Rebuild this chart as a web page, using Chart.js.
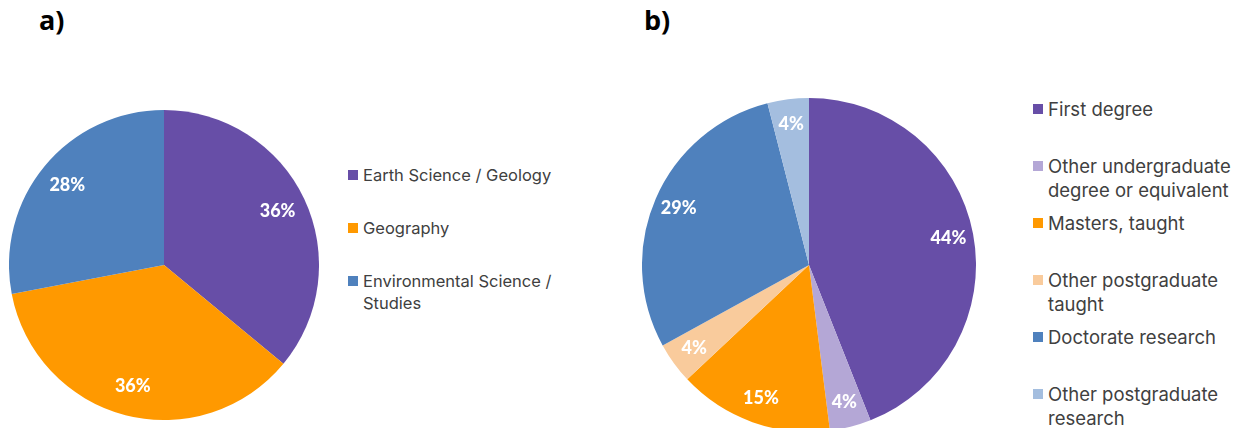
<!DOCTYPE html>
<html>
<head>
<meta charset="utf-8">
<script src="https://cdn.jsdelivr.net/npm/chart.js@4"></script>
<style>
  body { margin: 0; width: 1237px; height: 428px; overflow: hidden; background: #fff; position: relative; }
  .title { position: absolute; font: bold 27px "Open Sans", sans-serif; color: #000; top: 1px; }
  .wrap { position: absolute; }
  .legend { position: absolute; font-family: "Inter", sans-serif; color: #404040; }
  .item { position: relative; padding-left: 15px; box-sizing: border-box; }
  .box { position: absolute; left: 0; width: 10px; height: 10px; }
</style>
</head>
<body>
<div class="title" style="left:39px">a)</div>
<div class="title" style="left:644px">b)</div>
<div class="wrap" style="left:9px;top:110px;width:310px;height:310px"><canvas id="chartA"></canvas></div>
<div class="wrap" style="left:642px;top:98px;width:334px;height:334px"><canvas id="chartB"></canvas></div>
<div class="legend" id="legendA" style="left:348px;top:164px;font-size:16.5px"></div>
<div class="legend" id="legendB" style="left:1033px;top:97px;font-size:18.5px"></div>
<script>
// a) subject of study
const subjectLabels = ["Earth Science / Geology", "Geography", "Environmental Science / Studies"];
const subjectValues = [36, 36, 28];
const subjectColors = ["#674ea7", "#ff9900", "#4f81bd"];

// b) level of study
const levelLabels = [
  "First degree",
  "Other undergraduate degree or equivalent",
  "Masters, taught",
  "Other postgraduate taught",
  "Doctorate research",
  "Other postgraduate research",
];
const levelValues = [44, 4, 15, 4, 29, 4];
const levelColors = ["#674ea7", "#b4a7d6", "#ff9900", "#f9cb9c", "#4f81bd", "#a4bedf"];

// draws "NN%" inside each slice
const pctLabels = {
  id: "pctLabels",
  afterDatasetsDraw(chart, args, opts) {
    const ctx = chart.ctx;
    const meta = chart.getDatasetMeta(0);
    const data = chart.data.datasets[0].data;
    ctx.save();
    ctx.fillStyle = "#fff";
    ctx.font = "900 18px Lato, sans-serif";
    ctx.textAlign = "center";
    ctx.textBaseline = "middle";
    meta.data.forEach((arc, i) => {
      const mid = (arc.startAngle + arc.endAngle) / 2;
      const r = arc.outerRadius * opts.factor;
      ctx.fillText(data[i] + "%", arc.x + Math.cos(mid) * r, arc.y + Math.sin(mid) * r);
    });
    ctx.restore();
  },
};

function makePie(id, labels, values, colors, factor) {
  return new Chart(document.getElementById(id).getContext("2d"), {
    type: "pie",
    data: {
      labels: labels,
      datasets: [{ data: values, backgroundColor: colors, borderWidth: 0 }],
    },
    options: {
      responsive: true,
      maintainAspectRatio: false,
      animation: false,
      layout: { padding: 0 },
      plugins: {
        legend: { display: false },
        tooltip: { enabled: false },
        pctLabels: { factor: factor },
      },
    },
    plugins: [pctLabels],
  });
}

function buildLegend(el, labels, colors, slot, lineH, wrapAt) {
  labels.forEach((t, i) => {
    const item = document.createElement("div");
    item.className = "item";
    item.style.height = slot + "px";
    item.style.lineHeight = lineH + "px";
    item.style.width = wrapAt + "px";
    const box = document.createElement("span");
    box.className = "box";
    box.style.background = colors[i];
    box.style.top = (lineH - 10) / 2 + "px";
    item.appendChild(box);
    item.appendChild(document.createTextNode(t));
    el.appendChild(item);
  });
}

makePie("chartA", subjectLabels, subjectValues, subjectColors, 0.81);
makePie("chartB", levelLabels, levelValues, levelColors, 0.85);
buildLegend(document.getElementById("legendA"), subjectLabels, subjectColors, 53, 22, 215);
buildLegend(document.getElementById("legendB"), levelLabels, levelColors, 57, 24, 204);
</script>
</body>
</html>
